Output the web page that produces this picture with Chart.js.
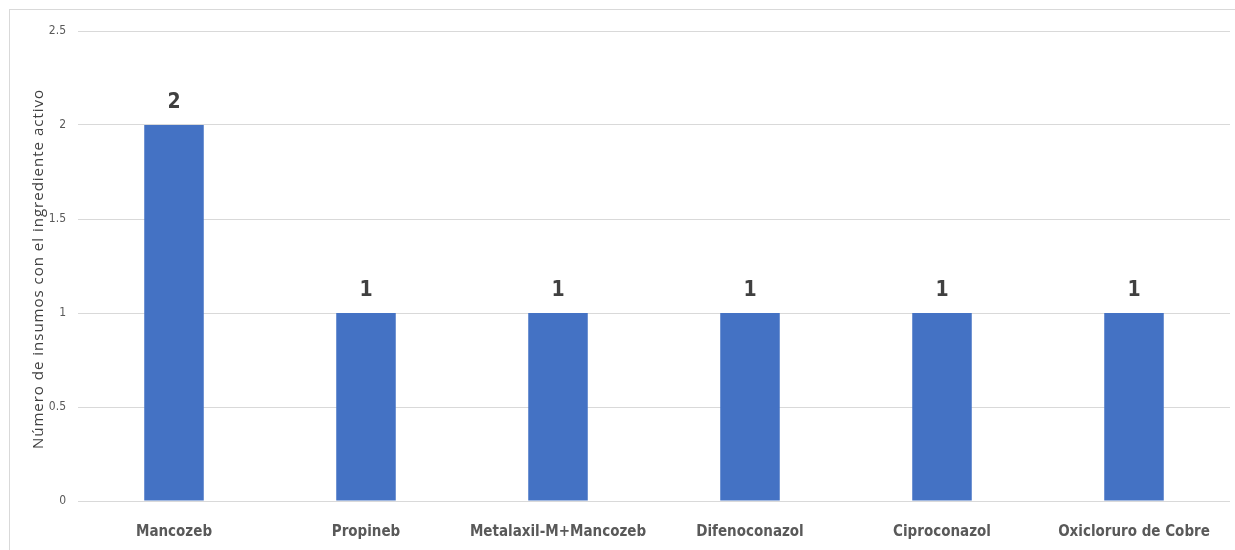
<!DOCTYPE html>
<html>
<head>
<meta charset="utf-8">
<script src="https://cdn.jsdelivr.net/npm/chart.js@4/dist/chart.umd.min.js"></script>
<style>
  html, body { margin: 0; padding: 0; background: #fff; }
  #wrap { width: 1235px; height: 550px; position: relative; }
</style>
</head>
<body>
<div id="wrap"><canvas id="c" width="1235" height="550"></canvas></div>
<script>
const categories = ['Mancozeb', 'Propineb', 'Metalaxil-M+Mancozeb', 'Difenoconazol', 'Ciproconazol', 'Oxicloruro de Cobre'];
const counts = [2, 1, 1, 1, 1, 1];
const yTicks = [0, 0.5, 1, 1.5, 2, 2.5];
const yTitle = 'Número de insumos con el ingrediente activo';

const narrow = '"Liberation Sans Narrow", "DejaVu Sans Condensed", "Liberation Sans", sans-serif';

// frame, rotated axis title and value labels above the bars
const frameAndLabels = {
  id: 'frameAndLabels',
  beforeDraw(chart) {
    const ctx = chart.ctx;
    ctx.save();
    ctx.strokeStyle = '#d9d9d9';
    ctx.lineWidth = 1;
    ctx.strokeRect(9.5, 9.5, 1240, 560);

    // y-axis title, centred on the plot height
    const area = chart.chartArea;
    ctx.translate(43, (area.top + area.bottom) / 2 + 3);
    ctx.rotate(-Math.PI / 2);
    ctx.fillStyle = '#404040';
    ctx.font = '15px "Open Sans", sans-serif';
    ctx.letterSpacing = '1px';
    ctx.textAlign = 'center';
    ctx.textBaseline = 'alphabetic';
    ctx.fillText(yTitle, 0, 0);
    ctx.restore();
  },
  afterDatasetsDraw(chart) {
    const ctx = chart.ctx;
    const meta = chart.getDatasetMeta(0);
    ctx.save();
    ctx.fillStyle = '#404040';
    ctx.font = 'bold 21px ' + narrow;
    ctx.textAlign = 'center';
    ctx.textBaseline = 'middle';
    meta.data.forEach((bar, i) => {
      ctx.fillText(String(counts[i]), bar.x, bar.y - 22);
    });
    ctx.restore();
  }
};

new Chart(document.getElementById('c'), {
  type: 'bar',
  data: {
    labels: categories,
    datasets: [{
      data: counts,
      backgroundColor: '#4472c4',
      borderWidth: 0,
      categoryPercentage: 1,
      barPercentage: 0.31
    }]
  },
  options: {
    responsive: false,
    animation: false,
    layout: { padding: { left: 0, right: 5, top: 31, bottom: 0 } },
    plugins: { legend: { display: false }, tooltip: { enabled: false } },
    scales: {
      x: {
        grid: { display: false },
        border: { display: false },
        ticks: {
          color: '#595959',
          font: { family: narrow, size: 15, weight: 'bold' },
          padding: 14,
          maxRotation: 0,
          autoSkip: false
        },
        afterFit(scale) { scale.height = 49; }
      },
      y: {
        min: 0,
        max: 2.5,
        afterBuildTicks(scale) { scale.ticks = yTicks.map(v => ({ value: v })); },
        grid: { color: '#d9d9d9', lineWidth: 1, drawTicks: false },
        border: { display: false },
        ticks: {
          color: '#595959',
          font: { family: narrow, size: 12 },
          padding: 12,
          callback: (v) => String(v)
        },
        afterFit(scale) { scale.width = 78; }
      }
    }
  },
  plugins: [frameAndLabels]
});
</script>
</body>
</html>
